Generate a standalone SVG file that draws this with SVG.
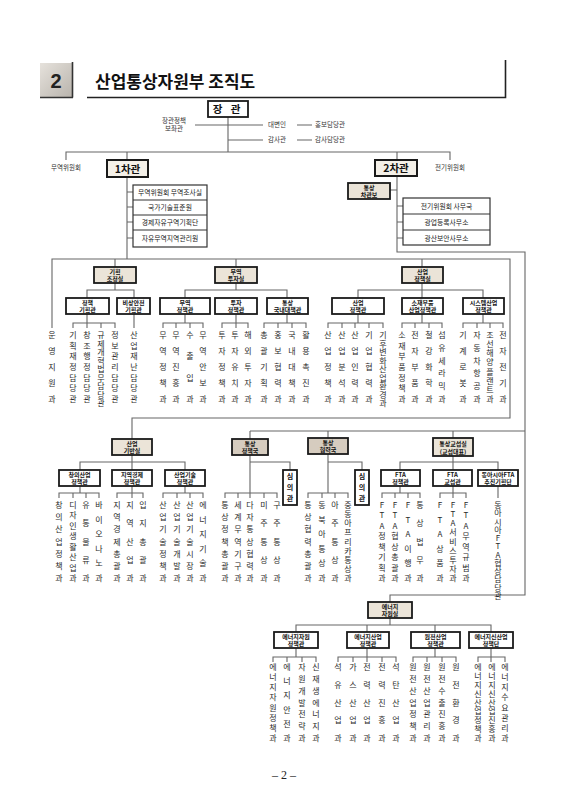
<svg xmlns="http://www.w3.org/2000/svg" width="573" height="800" viewBox="0 0 573 800">
<defs>
<linearGradient id="g2" x1="0" y1="0" x2="1" y2="1"><stop offset="0" stop-color="#e6e2dc"/><stop offset="1" stop-color="#b9b4ad"/></linearGradient>
<style>
.ln{stroke:#666;stroke-width:1.1;fill:none}
.bx{fill:#fff;stroke:#1a1a1a;stroke-width:1.8}
.sil{fill:#ebe4d8;stroke:#1a1a1a;stroke-width:1.8}
.ton{fill:#d6ccbf;stroke:#1a1a1a;stroke-width:1.8}
.vc{fill:#f4f0e8;stroke:#1a1a1a;stroke-width:2}
.sb{fill:#fff;stroke:#333;stroke-width:1.2}
.bt{font-family:"Noto Sans CJK KR",sans-serif;font-weight:bold;font-size:6px;text-anchor:middle;fill:#111}
.st{font-family:"Noto Sans CJK KR",sans-serif;font-size:6.8px;text-anchor:middle;fill:#222}
.sm{font-family:"Noto Sans CJK KR",sans-serif;font-size:6.5px;fill:#333}
.lf{font-family:"Noto Sans CJK KR",sans-serif;font-size:8px;writing-mode:vertical-rl;text-orientation:upright;fill:#2a2a2a}
.vb{font-family:"Noto Sans CJK KR",sans-serif;font-weight:bold;font-size:7px;writing-mode:vertical-rl;fill:#111;letter-spacing:4px}
</style>
</defs>
<rect width="573" height="800" fill="#fff"/>

<g id="header">
<rect x="40" y="63" width="32" height="34" fill="url(#g2)"/>
<path d="M72.5 62V97.5M40 97.5H73" stroke="#333" stroke-width="1.6" fill="none"/>
<text x="56" y="88" font-family="Liberation Sans,sans-serif" font-weight="bold" font-size="20" text-anchor="middle" fill="#222">2</text>
<text x="95" y="88" font-family="Noto Sans CJK KR,sans-serif" font-weight="bold" font-size="17" fill="#111">산업통상자원부 조직도</text>
<path d="M87 97.5H505.5V60" stroke="#222" stroke-width="1.6" fill="none"/>
</g>

<g id="connectors" class="ln">
<path d="M228 117V152M195 125H263M228 140H263M297 125H312M297 140H312"/>
<path d="M66 160V152H450V160"/>
<path d="M127 152V259M127 192H133M127 207H133M127 222H133M127 238H133"/>
<path d="M397 152V252H525V595H390V602M390 190H397M397 206H403M397 222H403M397 238H403"/>
<path d="M52 328V259H510V418H132V439M115 259V267M236 259V267M422 259V267"/>
<path d="M115 282V290M87 298V290H134V298M87 313V323M73 328V323H115V328M87 323V328M101 323V328M134 313V328"/>
<path d="M236 282V290M185 298V290H287V298M185 313V323M163 328V323H203V328M176 323V328M190 323V328"/>
<path d="M236 313V328M222 328V323H248V328M287 313V323M264 328V323H306V328M278 323V328M292 323V328"/>
<path d="M422 282V298M358 298V290H483V298M358 313V323M328 328V323H383V328M342 323V328M355 323V328M369 323V328"/>
<path d="M422 313V323M402 328V323H442V328M415 323V328M429 323V328M483 313V323M463 328V323H503V328M477 323V328M490 323V328"/>
<path d="M250 431H525M250 431V439M328 431V438M453 431V438"/>
<path d="M132 454V470M80 470V462H185V470M80 485V493M59 498V493H99V498M73 493V498M86 493V498"/>
<path d="M132 485V498M117 498V493H143V498M185 485V493M163 498V493H203V498M177 493V498M190 493V498"/>
<path d="M250 454V498M225 498V493H277V498M238 493V498M264 493V498M250 462H290V470"/>
<path d="M328 454V493M308 498V493H348V498M322 493V498M335 493V498M328 462H362V470"/>
<path d="M453 456V470M400 470V462H498V470M400 486V493M382 498V493H420V498M395 493V498M408 493V498M453 486V498M440 498V493H466V498M498 486V498"/>
<path d="M390 617V625M296 632V625H491V632M367 625V632M435 625V632"/>
<path d="M296 648V657M273 662V657H316V662M287 657V662M302 657V662M367 648V662M338 662V657H396V662M353 657V662M382 657V662"/>
<path d="M435 648V657M413 662V657H456V662M427 657V662M442 657V662M491 648V662M478 662V657H505V662"/>
</g>

<g id="minister"><rect class="bx" x="208" y="101" width="40" height="16"/><text x="228" y="113" font-family="Noto Sans CJK KR,sans-serif" font-weight="bold" font-size="10.5" text-anchor="middle" fill="#111" letter-spacing="3">장 관</text></g>
<g id="advisor"><text class="sm" x="174" y="123" text-anchor="middle">장관정책</text><text class="sm" x="174" y="130.5" text-anchor="middle">보좌관</text></g>
<g id="spokes"><text class="sm" x="268" y="127">대변인</text></g>
<g id="pr"><text class="sm" x="315" y="127">홍보담당관</text></g>
<g id="auditor"><text class="sm" x="268" y="142">감사관</text></g>
<g id="audit"><text class="sm" x="315" y="142">감사담당관</text></g>
<g id="tradecomm"><text class="sm" x="66" y="170" text-anchor="middle">무역위원회</text></g>
<g id="eleccomm"><text class="sm" x="450" y="170" text-anchor="middle">전기위원회</text></g>

<g id="vice1"><rect class="vc" x="107" y="160" width="41" height="17"/><text x="127.5" y="172.5" font-family="Noto Sans CJK KR,sans-serif" font-weight="bold" font-size="10.5" text-anchor="middle" fill="#111">1차관</text></g>
<g id="vice1-units">
<rect class="sb" x="133" y="185" width="74" height="62"/>
<path d="M133 200H207M133 215H207M133 230H207" stroke="#333" stroke-width="1"/>
<text class="st" x="170" y="195">무역위원회 무역조사실</text>
<text class="st" x="170" y="210">국가기술표준원</text>
<text class="st" x="170" y="225">경제자유구역기획단</text>
<text class="st" x="170" y="241">자유무역지역관리원</text>
</g>
<g id="vice2"><rect class="vc" x="375" y="160" width="42" height="16"/><text x="396" y="172" font-family="Noto Sans CJK KR,sans-serif" font-weight="bold" font-size="10.5" text-anchor="middle" fill="#111">2차관</text></g>
<g id="tradeasst"><rect class="sil" x="348" y="183" width="42" height="16"/><text class="bt"><tspan x="369" y="190.2">통상</tspan><tspan x="369" y="197.2">차관보</tspan></text></g>
<g id="vice2-units">
<rect class="sb" x="403" y="198" width="87" height="47"/>
<path d="M403 214H490M403 230H490" stroke="#333" stroke-width="1"/>
<text class="st" x="446.5" y="209">전기위원회 사무국</text>
<text class="st" x="446.5" y="225">광업등록사무소</text>
<text class="st" x="446.5" y="240.5">광산보안사무소</text>
</g>

<g id="planning"><rect class="sil" x="94" y="267" width="42" height="16"/><text class="bt"><tspan x="115" y="274.2">기획</tspan><tspan x="115" y="281.2">조정실</tspan></text></g>
<g id="tradeinv"><rect class="sil" x="215" y="267" width="42" height="16"/><text class="bt"><tspan x="236" y="274.2">무역</tspan><tspan x="236" y="281.2">투자실</tspan></text></g>
<g id="induspol"><rect class="sil" x="402" y="267" width="41" height="16"/><text class="bt"><tspan x="422.5" y="274.2">산업</tspan><tspan x="422.5" y="281.2">정책실</tspan></text></g>

<g id="polplan"><rect class="bx" x="66" y="298" width="43" height="16"/><text class="bt"><tspan x="87.5" y="305.2">정책</tspan><tspan x="87.5" y="312.2">기획관</tspan></text></g>
<g id="emerg"><rect class="bx" x="117" y="298" width="33" height="16"/><text class="bt"><tspan x="133.5" y="305.2">비상안전</tspan><tspan x="133.5" y="312.2">기획관</tspan></text></g>
<g id="tradepol"><rect class="bx" x="160" y="298" width="50" height="16"/><text class="bt"><tspan x="185" y="305.2">무역</tspan><tspan x="185" y="312.2">정책관</tspan></text></g>
<g id="invpol"><rect class="bx" x="215" y="298" width="42" height="16"/><text class="bt"><tspan x="236" y="305.2">투자</tspan><tspan x="236" y="312.2">정책관</tspan></text></g>
<g id="domestic"><rect class="bx" x="267" y="298" width="41" height="16"/><text class="bt"><tspan x="287.5" y="305.2">통상</tspan><tspan x="287.5" y="312.2">국내대책관</tspan></text></g>
<g id="indpolicy"><rect class="bx" x="332" y="298" width="52" height="16"/><text class="bt"><tspan x="358" y="305.2">산업</tspan><tspan x="358" y="312.2">정책관</tspan></text></g>
<g id="materials"><rect class="bx" x="402" y="298" width="41" height="16"/><text class="bt"><tspan x="422.5" y="305.2">소재부품</tspan><tspan x="422.5" y="312.2">산업정책관</tspan></text></g>
<g id="system"><rect class="bx" x="463" y="298" width="41" height="16"/><text class="bt"><tspan x="483.5" y="305.2">시스템산업</tspan><tspan x="483.5" y="312.2">정책관</tspan></text></g>

<g id="leaves-top">
<text class="lf" x="52" y="331" letter-spacing="8">운영지원과</text>
<text class="lf" x="73" y="331" letter-spacing="2.67">기획재정담당관</text>
<text class="lf" x="87" y="331" letter-spacing="2.67">창조행정담당관</text>
<text class="lf" x="101" y="331" font-size="7.5" letter-spacing="0.5">규제개혁법무담당관</text>
<text class="lf" x="115" y="331" letter-spacing="2.67">정보관리담당관</text>
<text class="lf" x="134" y="331" letter-spacing="2.67">산업재난담당관</text>
<text class="lf" x="163" y="331" letter-spacing="8">무역정책과</text>
<text class="lf" x="176" y="331" letter-spacing="8">무역진흥과</text>
<text class="lf" x="190" y="331" letter-spacing="13.3">수출입과</text>
<text class="lf" x="203" y="331" letter-spacing="8">무역안보과</text>
<text class="lf" x="222" y="331" letter-spacing="8">투자정책과</text>
<text class="lf" x="235" y="331" letter-spacing="8">투자유치과</text>
<text class="lf" x="248" y="331" letter-spacing="8">해외투자과</text>
<text class="lf" x="264" y="331" letter-spacing="8">총괄기획과</text>
<text class="lf" x="278" y="331" letter-spacing="8">홍보협력과</text>
<text class="lf" x="292" y="331" letter-spacing="8">국내대책과</text>
<text class="lf" x="306" y="331" letter-spacing="8">활용촉진과</text>
<text class="lf" x="328" y="331" letter-spacing="8">산업정책과</text>
<text class="lf" x="342" y="331" letter-spacing="8">산업분석과</text>
<text class="lf" x="355" y="331" letter-spacing="8">산업인력과</text>
<text class="lf" x="369" y="331" letter-spacing="8">기업협력과</text>
<text class="lf" x="383" y="331" font-size="7.5" letter-spacing="0.5">기후변화산업환경과</text>
<text class="lf" x="402" y="331" letter-spacing="2.67">소재부품정책과</text>
<text class="lf" x="415" y="331" letter-spacing="8">전자부품과</text>
<text class="lf" x="429" y="331" letter-spacing="8">철강화학과</text>
<text class="lf" x="442" y="331" letter-spacing="4.8">섬유세라믹과</text>
<text class="lf" x="463" y="331" letter-spacing="8">기계로봇과</text>
<text class="lf" x="477" y="331" letter-spacing="4.8">자동차항공과</text>
<text class="lf" x="490" y="331" letter-spacing="1.14">조선해양플랜트과</text>
<text class="lf" x="503" y="331" letter-spacing="8">전자전기과</text>
</g>

<g id="indbase"><rect class="sil" x="112" y="439" width="40" height="16"/><text class="bt"><tspan x="132" y="446.2">산업</tspan><tspan x="132" y="453.2">기반실</tspan></text></g>
<g id="tradepolbur"><rect class="ton" x="232" y="439" width="36" height="16"/><text class="bt"><tspan x="250" y="446.2">통상</tspan><tspan x="250" y="453.2">정책국</tspan></text></g>
<g id="tradecoop"><rect class="ton" x="308" y="438" width="40" height="16"/><text class="bt"><tspan x="328" y="445.2">통상</tspan><tspan x="328" y="452.2">협력국</tspan></text></g>
<g id="negot"><rect class="sil" x="433" y="438" width="40" height="18"/><text class="bt"><tspan x="453" y="445.5">통상교섭실</tspan><tspan x="453" y="453.5">(교섭대표)</tspan></text></g>

<g id="creative"><rect class="bx" x="59" y="470" width="41" height="16"/><text class="bt"><tspan x="79.5" y="477.2">창의산업</tspan><tspan x="79.5" y="484.2">정책관</tspan></text></g>
<g id="regional"><rect class="bx" x="112" y="470" width="40" height="16"/><text class="bt"><tspan x="132" y="477.2">지역경제</tspan><tspan x="132" y="484.2">정책관</tspan></text></g>
<g id="indtech"><rect class="bx" x="165" y="470" width="40" height="16"/><text class="bt"><tspan x="185" y="477.2">산업기술</tspan><tspan x="185" y="484.2">정책관</tspan></text></g>
<g id="deliber1"><rect class="bx" x="283" y="470" width="14" height="35"/><text class="vb" x="290" y="473">심의관</text></g>
<g id="deliber2"><rect class="bx" x="355" y="470" width="14" height="35"/><text class="vb" x="362" y="473">심의관</text></g>
<g id="ftapol"><rect class="bx" x="381" y="470" width="39" height="16"/><text class="bt"><tspan x="400.5" y="477.2">FTA</tspan><tspan x="400.5" y="484.2">정책관</tspan></text></g>
<g id="ftaneg"><rect class="bx" x="433" y="470" width="39" height="16"/><text class="bt"><tspan x="452.5" y="477.2">FTA</tspan><tspan x="452.5" y="484.2">교섭관</tspan></text></g>
<g id="eastasia"><rect class="bx" x="478" y="470" width="40" height="16"/><text class="bt" font-size="5.5"><tspan x="498" y="477.2">동아시아FTA</tspan><tspan x="498" y="484.2">추진기획단</tspan></text></g>

<g id="leaves-mid">
<text class="lf" x="59" y="501" letter-spacing="4.17">창의산업정책과</text>
<text class="lf" x="73" y="501" letter-spacing="2.43">디자인생활산업과</text>
<text class="lf" x="86" y="501" letter-spacing="10.25">유통물류과</text>
<text class="lf" x="99" y="501" letter-spacing="6.6">바이오나노과</text>
<text class="lf" x="117" y="501" letter-spacing="4.17">지역경제총괄과</text>
<text class="lf" x="130" y="501" letter-spacing="10.25">지역산업과</text>
<text class="lf" x="143" y="501" letter-spacing="10.25">입지총괄과</text>
<text class="lf" x="163" y="501" letter-spacing="4.17">산업기술정책과</text>
<text class="lf" x="177" y="501" letter-spacing="4.17">산업기술개발과</text>
<text class="lf" x="190" y="501" letter-spacing="4.17">산업기술시장과</text>
<text class="lf" x="203" y="501" letter-spacing="6.6">에너지기술과</text>
<text class="lf" x="225" y="501" letter-spacing="4.17">통상정책총괄과</text>
<text class="lf" x="238" y="501" letter-spacing="4.17">세계무역기구과</text>
<text class="lf" x="250" y="501" letter-spacing="4.17">다자통상협력과</text>
<text class="lf" x="264" y="501" letter-spacing="10.25">미주통상과</text>
<text class="lf" x="277" y="501" letter-spacing="10.25">구주통상과</text>
<text class="lf" x="308" y="501" letter-spacing="4.17">통상협력총괄과</text>
<text class="lf" x="322" y="501" letter-spacing="6.6">동북아통상과</text>
<text class="lf" x="335" y="501" letter-spacing="10.25">아주통상과</text>
<text class="lf" x="348" y="501" letter-spacing="1.12">중동아프리카통상과</text>
<text class="lf" x="382" y="501" letter-spacing="2.43">FTA정책기획과</text>
<text class="lf" x="395" y="501" letter-spacing="2.43">FTA협상총괄과</text>
<text class="lf" x="408" y="501" letter-spacing="6.6">FTA이행과</text>
<text class="lf" x="420" y="501" letter-spacing="10.25">통상법무과</text>
<text class="lf" x="440" y="501" letter-spacing="6.6">FTA상품과</text>
<text class="lf" x="453" y="501" letter-spacing="1.12">FTA서비스투자과</text>
<text class="lf" x="466" y="501" letter-spacing="2.43">FTA무역규범과</text>
<text class="lf" x="498" y="501" font-size="6.5" letter-spacing="0.27">동아시아FTA협상담당관</text>
</g>

<g id="energy"><rect class="sil" x="368" y="602" width="44" height="16"/><text class="bt"><tspan x="390" y="609.2">에너지</tspan><tspan x="390" y="616.2">자원실</tspan></text></g>
<g id="enres"><rect class="bx" x="274" y="632" width="44" height="16"/><text class="bt"><tspan x="296" y="639.2">에너지자원</tspan><tspan x="296" y="646.2">정책관</tspan></text></g>
<g id="enind"><rect class="bx" x="347" y="632" width="42" height="16"/><text class="bt"><tspan x="368" y="639.2">에너지산업</tspan><tspan x="368" y="646.2">정책관</tspan></text></g>
<g id="nuclear"><rect class="bx" x="411" y="632" width="49" height="16"/><text class="bt"><tspan x="435.5" y="639.2">원전산업</tspan><tspan x="435.5" y="646.2">정책관</tspan></text></g>
<g id="newind"><rect class="bx" x="469" y="632" width="44" height="16"/><text class="bt"><tspan x="491" y="639.2">에너지신산업</tspan><tspan x="491" y="646.2">정책단</tspan></text></g>

<g id="leaves-bottom">
<text class="lf" x="273" y="663" letter-spacing="2.14">에너지자원정책과</text>
<text class="lf" x="287" y="663" letter-spacing="6.2">에너지안전과</text>
<text class="lf" x="302" y="663" letter-spacing="3.83">자원개발전략과</text>
<text class="lf" x="316" y="663" letter-spacing="3.83">신재생에너지과</text>
<text class="lf" x="338" y="663" letter-spacing="9.75">석유산업과</text>
<text class="lf" x="353" y="663" letter-spacing="9.75">가스산업과</text>
<text class="lf" x="367" y="663" letter-spacing="9.75">전력산업과</text>
<text class="lf" x="382" y="663" letter-spacing="9.75">전력진흥과</text>
<text class="lf" x="396" y="663" letter-spacing="9.75">석탄산업과</text>
<text class="lf" x="413" y="663" letter-spacing="3.83">원전산업정책과</text>
<text class="lf" x="427" y="663" letter-spacing="3.83">원전산업관리과</text>
<text class="lf" x="442" y="663" letter-spacing="3.83">원전수출진흥과</text>
<text class="lf" x="456" y="663" letter-spacing="9.75">원전환경과</text>
<text class="lf" x="478" y="663" letter-spacing="0.88">에너지신산업정책과</text>
<text class="lf" x="492" y="663" letter-spacing="0.88">에너지신산업진흥과</text>
<text class="lf" x="505" y="663" letter-spacing="2.14">에너지수요관리과</text>
</g>

<g id="page"><text x="284" y="779" font-family="Liberation Serif,serif" font-size="12" text-anchor="middle" fill="#222">– 2 –</text></g>
</svg>
